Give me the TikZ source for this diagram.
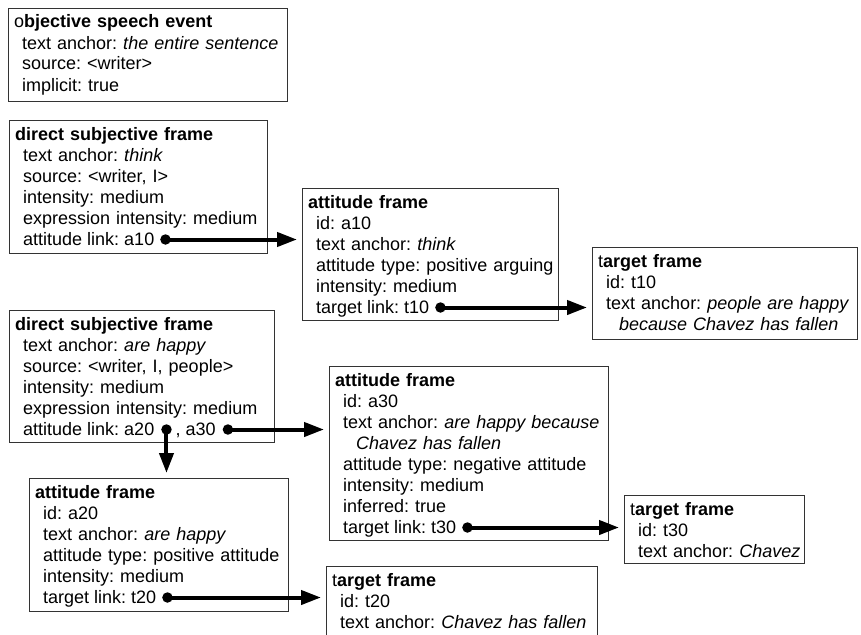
\documentclass[tikz,border=0pt]{standalone}
\usepackage{fontspec}
\setmainfont{Liberation Sans}
\usetikzlibrary{arrows.meta,calc}
\frenchspacing
\tikzset{
  frm/.style={draw=black!80, line width=0.9pt, rectangle, inner sep=0pt, anchor=north west},
  ftext/.style={inner sep=0pt, anchor=base west, align=left, text width=320pt,
    font=\fontsize{18}{21}\selectfont},
  lline/.style={inner sep=0pt, anchor=base west, font=\fontsize{18}{21}\selectfont},
  link/.style={line width=4pt, -{Triangle[length=20pt,width=14pt]}, shorten >=5pt},
  ldot/.style={fill=black, circle, inner sep=0pt, minimum size=10.5pt},
}
\newcommand\mkbox[5]{%
  \node[frm, minimum width={#4-#2}, minimum height={#5-#3}] (#1) at (#2,#3) {};}
\newcommand\ind{\hspace*{8pt}}
\newcommand\cont{\hspace*{21pt}}
\begin{document}
\begin{tikzpicture}[x=1pt,y=-1pt]
\useasboundingbox (0,0) rectangle (861,634);
% boxes
\mkbox{ose}{8}{8}{287}{101}
\mkbox{ds1}{9}{120}{267}{253}
\mkbox{af10}{302}{188}{558}{320}
\mkbox{tf10}{592}{247}{857}{339}
\mkbox{ds2}{9}{310}{274}{442}
\mkbox{af30}{329}{366}{608}{540}
\mkbox{tf30}{624}{495}{804}{563}
\mkbox{af20}{29}{478}{288}{611}
\mkbox{tf20}{326}{566}{597}{645}
% texts
\node[ftext] (oset) at ($(ose.north west)+(6,20)$) {o\textbf{bjective speech event}\\
  \ind text anchor: \textit{the entire sentence}\\
  \ind source: <writer>\\
  \ind implicit: true};
\node[ftext] (ds1t) at ($(ds1.north west)+(6,20)$) {\textbf{direct subjective frame}\\
  \ind text anchor: \textit{think}\\
  \ind source: <writer, I>\\
  \ind intensity: medium\\
  \ind expression intensity: medium};
\node[lline] (ds1l) at ($(ds1.north west)+(14,125)$) {attitude link: a10};
\node[ftext] (af10t) at ($(af10.north west)+(6,20)$) {\textbf{attitude frame}\\
  \ind id: a10\\
  \ind text anchor: \textit{think}\\
  \ind attitude type: positive arguing\\
  \ind intensity: medium};
\node[lline] (af10l) at ($(af10.north west)+(14,125)$) {target link: t10};
\node[ftext] (tf10t) at ($(tf10.north west)+(6,20)$) {t\textbf{arget frame}\\
  \ind id: t10\\
  \ind text anchor: \textit{people are happy}\\
  \cont\textit{because Chavez has fallen}};
\node[ftext] (ds2t) at ($(ds2.north west)+(6,20)$) {\textbf{direct subjective frame}\\
  \ind text anchor: \textit{are happy}\\
  \ind source: <writer, I, people>\\
  \ind intensity: medium\\
  \ind expression intensity: medium};
\node[lline] (ds2l) at ($(ds2.north west)+(14,125)$) {attitude link: a20};
\node[ftext] (af30t) at ($(af30.north west)+(6,20)$) {\textbf{attitude frame}\\
  \ind id: a30\\
  \ind text anchor: \textit{are happy because}\\
  \cont\textit{Chavez has fallen}\\
  \ind attitude type: negative attitude\\
  \ind intensity: medium\\
  \ind inferred: true};
\node[lline] (af30l) at ($(af30.north west)+(14,167)$) {target link: t30};
\node[ftext] (tf30t) at ($(tf30.north west)+(6,20)$) {t\textbf{arget frame}\\
  \ind id: t30\\
  \ind text anchor: \textit{Chavez}};
\node[ftext] (af20t) at ($(af20.north west)+(6,20)$) {\textbf{attitude frame}\\
  \ind id: a20\\
  \ind text anchor: \textit{are happy}\\
  \ind attitude type: positive attitude\\
  \ind intensity: medium};
\node[lline] (af20l) at ($(af20.north west)+(14,125)$) {target link: t20};
\node[ftext] (tf20t) at ($(tf20.north west)+(6,20)$) {t\textbf{arget frame}\\
  \ind id: t20\\
  \ind text anchor: \textit{Chavez has fallen}};
% dots
\node[ldot] (ds1d) at ($(ds1l.base east)+(11,-5.5)$) {};
\node[ldot] (af10d) at ($(af10l.base east)+(11,-5.5)$) {};
\node[ldot] (ds2d1) at ($(ds2l.base east)+(12,-5.5)$) {};
\node[lline] (ds2l2) at ($(ds2l.base east)+(21,0)$) {, a30};
\node[ldot] (ds2d2) at ($(ds2l2.base east)+(12,-5.5)$) {};
\node[ldot] (af30d) at ($(af30l.base east)+(11,-5.5)$) {};
\node[ldot] (af20d) at ($(af20l.base east)+(11,-5.5)$) {};
% links
\draw[link] (ds1d.center) -- (ds1d.center -| af10.west);
\draw[link] (af10d.center) -- (af10d.center -| tf10.west);
\draw[link] (ds2d2.center) -- (ds2d2.center -| af30.west);
\draw[link] (ds2d1.center) -- (ds2d1.center |- af20.north);
\draw[link] (af30d.center) -- (af30d.center -| tf30.west);
\draw[link] (af20d.center) -- (af20d.center -| tf20.west);
\end{tikzpicture}
\end{document}
